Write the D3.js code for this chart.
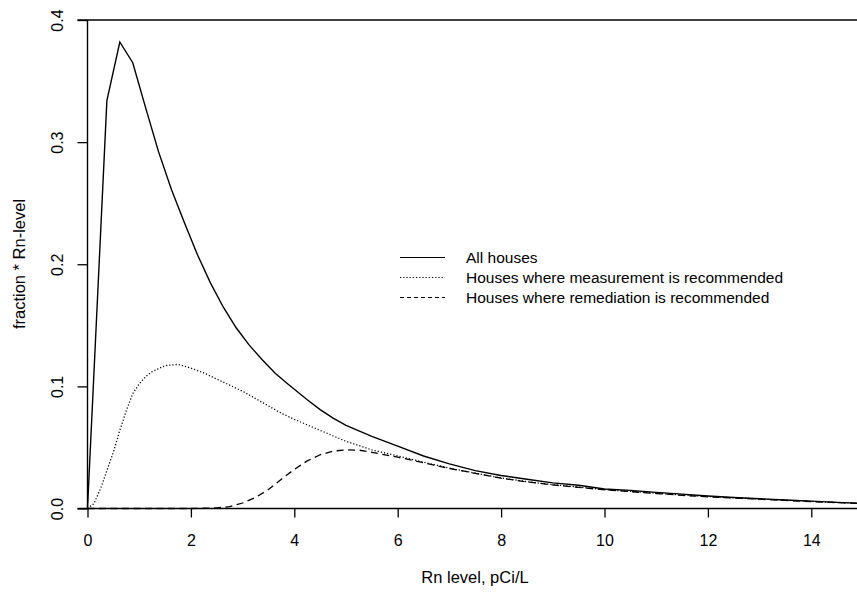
<!DOCTYPE html>
<html>
<head>
<meta charset="utf-8">
<script src="https://cdn.jsdelivr.net/npm/d3@7/dist/d3.min.js"></script>
<style>
  html, body { margin: 0; padding: 0; background: #fff; }
  svg { display: block; }
  text { font-family: "Liberation Sans", Arial, Helvetica, sans-serif; fill: #000; }
</style>
</head>
<body>
<svg id="chart" width="857" height="592"></svg>
<script>
// ---- data ----
const allX = [0, 0.375, 0.625, 0.875, 1.125, 1.375, 1.625, 1.875, 2.125, 2.375, 2.625, 2.875, 3.125, 3.375, 3.625, 3.875, 4.25, 4.5, 4.75, 5, 5.5, 6, 6.5, 7, 7.5, 8, 8.5, 9, 9.5, 10, 10.5, 11, 11.5, 12, 12.5, 13, 13.5, 14, 14.5, 15];
const allY = [0, 0.334, 0.382, 0.365, 0.328, 0.292, 0.261, 0.234, 0.208, 0.185, 0.165, 0.148, 0.134, 0.122, 0.111, 0.102, 0.089, 0.081, 0.074, 0.068, 0.059, 0.051, 0.043, 0.0365, 0.031, 0.027, 0.024, 0.021, 0.019, 0.016, 0.0148, 0.0132, 0.0118, 0.0102, 0.009, 0.008, 0.007, 0.006, 0.005, 0.0042];

const measX = [0, 0.125, 0.25, 0.375, 0.5, 0.625, 0.75, 0.875, 1.0, 1.125, 1.25, 1.5, 1.75, 2.0, 2.25, 2.5, 2.75, 3.0, 3.25, 3.5, 3.75, 4.0, 4.5, 5.0, 5.5, 6.0, 6.5, 7, 7.5, 8, 8.5, 9, 9.5, 10, 10.5, 11, 11.5, 12, 12.5, 13, 13.5, 14, 14.5, 15];
const measY = [0, 0.004, 0.016, 0.031, 0.046, 0.064, 0.080, 0.094, 0.102, 0.108, 0.112, 0.117, 0.118, 0.115, 0.111, 0.106, 0.101, 0.096, 0.090, 0.084, 0.078, 0.073, 0.064, 0.055, 0.048, 0.043, 0.038, 0.033, 0.029, 0.025, 0.022, 0.0195, 0.0175, 0.0155, 0.014, 0.0125, 0.011, 0.0098, 0.0088, 0.0078, 0.0068, 0.0058, 0.0049, 0.0041];

const remX = [0, 2.0, 2.5, 2.75, 3.0, 3.25, 3.5, 3.75, 4.0, 4.25, 4.5, 4.75, 5.0, 5.25, 5.5, 6.0, 6.5, 7, 7.5, 8, 8.5, 9, 9.5, 10, 10.5, 11, 11.5, 12, 12.5, 13, 13.5, 14, 14.5, 15];
const remY = [0, 0, 0.0005, 0.0015, 0.0045, 0.009, 0.0155, 0.024, 0.032, 0.039, 0.044, 0.047, 0.048, 0.0478, 0.046, 0.042, 0.0375, 0.0328, 0.0288, 0.0248, 0.0218, 0.0193, 0.0173, 0.0153, 0.0138, 0.0123, 0.0108, 0.0096, 0.0086, 0.0076, 0.0066, 0.0057, 0.0048, 0.004];

const xTicks = [0, 2, 4, 6, 8, 10, 12, 14];
const yTicks = [0, 0.1, 0.2, 0.3, 0.4];
const yTickLabels = ["0.0", "0.1", "0.2", "0.3", "0.4"];

const seriesNames = ["All houses", "Houses where measurement is recommended", "Houses where remediation is recommended"];
const seriesDash = [null, "1.2,2", "7,4.5"];

// ---- layout ----
const svg = d3.select("#chart");
const W = 857, H = 592;
const x = d3.scaleLinear().domain([0, 15]).range([87.5, 863]);
const y = d3.scaleLinear().domain([0, 0.4]).range([508.5, 20]);

const series = [
  allX.map((v, i) => [v, allY[i]]),
  measX.map((v, i) => [v, measY[i]]),
  remX.map((v, i) => [v, remY[i]])
];

// Axes
const gx = svg.append("g").attr("transform", `translate(0,${y(0)})`)
  .call(d3.axisBottom(x).tickValues(xTicks).tickFormat(d3.format("d")).tickSize(9).tickPadding(17).tickSizeOuter(0));
const gy = svg.append("g").attr("transform", `translate(${x(0)},0)`)
  .call(d3.axisLeft(y).tickValues(yTicks).tickFormat((d, i) => yTickLabels[i]).tickSize(10).tickSizeOuter(0));

[gx, gy].forEach(g => {
  g.select(".domain").attr("stroke", "#000").attr("stroke-width", 1.4);
  g.selectAll(".tick line").attr("stroke", "#000").attr("stroke-width", 1.3);
  g.selectAll(".tick text").attr("font-size", 16).attr("font-family", "Liberation Sans, Arial, sans-serif").attr("fill", "#000");
});
gx.select(".domain").attr("d", `M${x(0) - 10},0H${W}`);
gy.select(".domain").attr("d", `M0,${y(0)}V${y(0.4)}`);

gy.selectAll(".tick text")
  .attr("x", null).attr("dy", null)
  .attr("text-anchor", "middle")
  .attr("transform", "translate(-25,0) rotate(-90)");

// top frame line
svg.append("line")
  .attr("x1", x(0) - 10).attr("x2", W)
  .attr("y1", y(0.4)).attr("y2", y(0.4))
  .attr("stroke", "#000").attr("stroke-width", 1.4);

// Series lines
const line = d3.line().x(d => x(d[0])).y(d => y(d[1])).curve(d3.curveLinear);
series.forEach((s, i) => {
  svg.append("path")
    .datum(s)
    .attr("d", line)
    .attr("fill", "none")
    .attr("stroke", "#000")
    .attr("stroke-width", i === 0 ? 1.4 : 1.3)
    .attr("stroke-linejoin", "miter")
    .attr("stroke-dasharray", seriesDash[i]);
});

// Axis titles
svg.append("text")
  .attr("x", 475).attr("y", 583)
  .attr("text-anchor", "middle")
  .attr("font-size", 16.5)
  .text("Rn level, pCi/L");

svg.append("text")
  .attr("transform", `translate(25,264) rotate(-90)`)
  .attr("text-anchor", "middle")
  .attr("font-size", 16.5)
  .text("fraction * Rn-level");

// Legend
const legendYs = [257.5, 277.5, 297.5];
const lg = svg.append("g");
seriesNames.forEach((name, i) => {
  lg.append("line")
    .attr("x1", 400).attr("x2", 445)
    .attr("y1", legendYs[i]).attr("y2", legendYs[i])
    .attr("stroke", "#000")
    .attr("stroke-width", 1.2)
    .attr("stroke-dasharray", i === 2 ? "4,3" : seriesDash[i]);
  lg.append("text")
    .attr("x", 466).attr("y", legendYs[i])
    .attr("dy", "0.35em")
    .attr("font-size", 15.5)
    .text(name);
});
</script>
</body>
</html>
